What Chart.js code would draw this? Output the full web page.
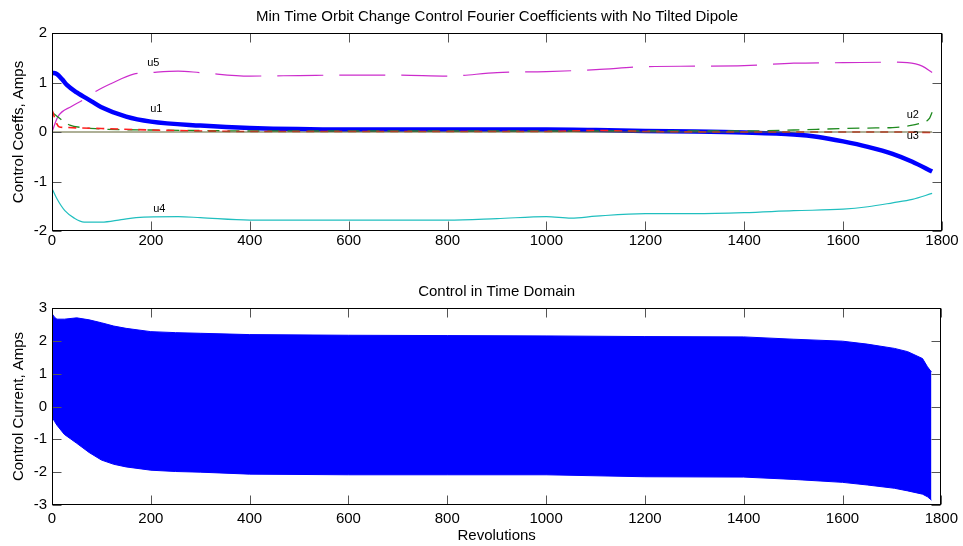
<!DOCTYPE html>
<html><head><meta charset="utf-8">
<script src="https://cdn.jsdelivr.net/npm/chart.js@4.4.0/dist/chart.umd.min.js"></script>
<style>
html,body{margin:0;padding:0;background:#fff;}
#wrap{position:relative;width:963px;height:546px;background:#fff;}
canvas{position:absolute;left:0;}
</style></head>
<body><div id="wrap">
<canvas id="c1" width="963" height="270" style="top:0"></canvas>
<canvas id="c2" width="963" height="276" style="top:270px"></canvas>
</div>
<script>
// ---------- DATA ----------
const topTitle = 'Min Time Orbit Change Control Fourier Coefficients with No Tilted Dipole';
const bottomTitle = 'Control in Time Domain';
const xTickStep = 200;

const u1Rev = [0, 10, 20, 30, 50, 80, 100, 150, 200, 300, 400, 600, 800, 1000, 1100, 1200, 1300, 1400, 1500, 1550, 1600, 1650, 1700, 1740, 1780];
const u1Val = [1.20, 1.17, 1.07, 0.95, 0.80, 0.62, 0.50, 0.31, 0.21, 0.13, 0.08, 0.05, 0.05, 0.05, 0.04, 0.02, 0.01, -0.01, -0.05, -0.10, -0.19, -0.30, -0.44, -0.60, -0.80];

const u2Rev = [0, 10, 20, 36, 60, 100, 200, 300, 400, 600, 800, 1000, 1200, 1400, 1500, 1600, 1650, 1700, 1730, 1760, 1775, 1780];
const u2Val = [0.40, 0.32, 0.24, 0.14, 0.09, 0.06, 0.04, 0.03, 0.02, 0.02, 0.02, 0.02, 0.02, 0.02, 0.04, 0.07, 0.08, 0.09, 0.12, 0.19, 0.28, 0.40];

const u3Rev = [0, 5, 10, 15, 30, 60, 100, 200, 300, 400, 600, 800, 1000, 1100, 1200, 1400, 1600, 1700, 1780];
const u3Val = [0.45, 0.30, 0.16, 0.10, 0.09, 0.08, 0.07, 0.04, 0.02, 0.01, 0.01, 0.01, 0.01, 0.03, 0.01, 0.00, 0.00, 0.00, -0.01];

const u4Rev = [0, 10, 26, 45, 65, 100, 140, 170, 255, 300, 400, 600, 800, 900, 1000, 1050, 1100, 1200, 1300, 1400, 1500, 1600, 1650, 1700, 1740, 1780];
const u4Val = [-1.14, -1.35, -1.59, -1.74, -1.82, -1.82, -1.77, -1.73, -1.71, -1.73, -1.78, -1.78, -1.78, -1.75, -1.71, -1.74, -1.70, -1.65, -1.65, -1.63, -1.59, -1.56, -1.51, -1.43, -1.36, -1.24];

const u5Rev = [0, 12, 40, 63, 90, 120, 165, 200, 255, 300, 400, 500, 600, 700, 800, 900, 1000, 1100, 1200, 1300, 1400, 1500, 1600, 1700, 1730, 1760, 1780];
const u5Val = [0.00, 0.31, 0.52, 0.65, 0.83, 0.98, 1.17, 1.20, 1.23, 1.20, 1.13, 1.14, 1.15, 1.15, 1.13, 1.20, 1.22, 1.26, 1.32, 1.33, 1.34, 1.39, 1.40, 1.41, 1.40, 1.33, 1.20];

const zeroRev = [0, 1780];
const zeroVal = [0, 0];

// envelope of time-domain control current
const envRev   = [0, 5, 10, 25, 50, 75, 100, 125, 150, 200, 250, 300, 400, 600, 800, 1000, 1200, 1400, 1500, 1600, 1650, 1705, 1732, 1762, 1772, 1780];
const envUpper = [2.83, 2.72, 2.66, 2.66, 2.70, 2.64, 2.55, 2.45, 2.38, 2.28, 2.25, 2.23, 2.19, 2.17, 2.16, 2.15, 2.13, 2.12, 2.05, 1.99, 1.90, 1.77, 1.67, 1.46, 1.21, 1.05];
const envLower = [-0.31, -0.45, -0.57, -0.85, -1.12, -1.40, -1.63, -1.76, -1.84, -1.94, -1.98, -2.00, -2.06, -2.08, -2.08, -2.08, -2.14, -2.15, -2.22, -2.31, -2.39, -2.49, -2.57, -2.67, -2.75, -2.85];

const seriesLabels = [
  {text: 'u5', x: 205, y: 1.39},
  {text: 'u1', x: 211, y: 0.46},
  {text: 'u4', x: 217, y: -1.56},
  {text: 'u2', x: 1741, y: 0.34},
  {text: 'u3', x: 1741, y: -0.08}
];
// ------------------------------------------------

const FONT = '"Liberation Sans", Arial, sans-serif';
Chart.defaults.font.family = FONT;
Chart.defaults.color = '#000';

const pts = (xs, ys) => xs.map((x, i) => ({x, y: ys[i]}));

function framePlugin(title, titleY, labels) {
  return {
    id: 'frame',
    afterDraw(chart) {
      const {ctx, chartArea: a, scales: {x, y}} = chart;
      ctx.save();
      const L = Math.round(a.left) + 0.5, R = Math.round(a.right) - 0.5;
      const T = Math.round(a.top) + 0.5, B = Math.round(a.bottom) - 0.5;
      ctx.strokeStyle = '#555';
      ctx.lineWidth = 1;
      ctx.beginPath();
      x.ticks.forEach(t => {
        const px = Math.round(x.getPixelForValue(t.value)) + 0.5;
        ctx.moveTo(px, B); ctx.lineTo(px, B - 9);
        ctx.moveTo(px, T); ctx.lineTo(px, T + 9);
      });
      y.ticks.forEach(t => {
        const py = Math.round(y.getPixelForValue(t.value)) + 0.5;
        ctx.moveTo(L, py); ctx.lineTo(L + 9, py);
        ctx.moveTo(R, py); ctx.lineTo(R - 9, py);
      });
      ctx.stroke();
      ctx.strokeStyle = '#000';
      ctx.strokeRect(L, T, R - L, B - T);
      ctx.fillStyle = '#000';
      ctx.font = '15px ' + FONT;
      ctx.textAlign = 'center';
      ctx.textBaseline = 'middle';
      ctx.fillText(title, (a.left + a.right) / 2, titleY);
      ctx.font = '11px ' + FONT;
      (labels || []).forEach(l => {
        ctx.fillText(l.text, x.getPixelForValue(l.x), y.getPixelForValue(l.y));
      });
      ctx.restore();
    }
  };
}

function scalesCfg(ymin, ymax, ytitle, xAxisH, xtitle, xTickPad) {
  return {
    x: {
      type: 'linear', min: 0, max: 1800,
      grid: {display: false, drawTicks: false, tickLength: 0},
      border: {display: false},
      ticks: {stepSize: xTickStep, font: {size: 15}, padding: xTickPad, maxRotation: 0, color: '#000',
              callback: v => String(v)},
      title: xtitle ? {display: true, text: xtitle, font: {size: 15}, padding: {top: 0, bottom: 1}, color: '#000'} : {display: false},
      afterFit(s) { s.height = xAxisH; }
    },
    y: {
      min: ymin, max: ymax,
      grid: {display: false, drawTicks: false, tickLength: 0},
      border: {display: false},
      ticks: {stepSize: 1, font: {size: 15}, padding: 5, color: '#000', callback: v => String(v)},
      title: {display: true, text: ytitle, font: {size: 15}, padding: {top: 10, bottom: 0}, color: '#000'},
      afterFit(s) { s.width = 52; }
    }
  };
}

const lineDs = (label, data, color, width, dash, order) => ({
  label, data, borderColor: color, backgroundColor: color, borderWidth: width,
  borderDash: dash, pointRadius: 0, fill: false, cubicInterpolationMode: 'monotone', order
});

new Chart(document.getElementById('c1'), {
  type: 'line',
  data: {
    datasets: [
      lineDs('zero', pts(zeroRev, zeroVal), '#5f6330', 1.2, [], 1),
      lineDs('u3', pts(u3Rev, u3Val), '#ff2020', 1.6, [8, 6], 2),
      lineDs('u2', pts(u2Rev, u2Val), '#1f8a1f', 1.3, [12, 8], 3),
      lineDs('u1', pts(u1Rev, u1Val), '#0000ff', 4.5, [], 4),
      lineDs('u4', pts(u4Rev, u4Val), '#20bfbf', 1.2, [], 5),
      lineDs('u5', pts(u5Rev, u5Val), '#cc2ccc', 1.2, [46, 16], 6)
    ]
  },
  options: {
    responsive: false, animation: false, devicePixelRatio: 1,
    layout: {padding: {top: 33, right: 21, left: 0, bottom: 0}},
    plugins: {legend: {display: false}, tooltip: {enabled: false}, title: {display: false}},
    scales: scalesCfg(-2, 2, 'Control Coeffs, Amps', 39, null, 1)
  },
  plugins: [framePlugin(topTitle, 17, seriesLabels)]
});

new Chart(document.getElementById('c2'), {
  type: 'line',
  data: {
    datasets: [
      {label: 'upper', data: pts(envRev, envUpper), borderColor: '#0000ff', backgroundColor: '#0000ff',
       borderWidth: 1, pointRadius: 0, fill: false, tension: 0},
      {label: 'lower', data: pts(envRev, envLower), borderColor: '#0000ff', backgroundColor: '#0000ff',
       borderWidth: 1, pointRadius: 0, fill: '-1', tension: 0}
    ]
  },
  options: {
    responsive: false, animation: false, devicePixelRatio: 1,
    layout: {padding: {top: 38, right: 21, left: 0, bottom: 0}},
    plugins: {legend: {display: false}, tooltip: {enabled: false}, title: {display: false}, filler: {propagate: false}},
    scales: scalesCfg(-3, 3, 'Control Current, Amps', 41, 'Revolutions', 5)
  },
  plugins: [framePlugin(bottomTitle, 22, [])]
});
</script>
</body></html>
